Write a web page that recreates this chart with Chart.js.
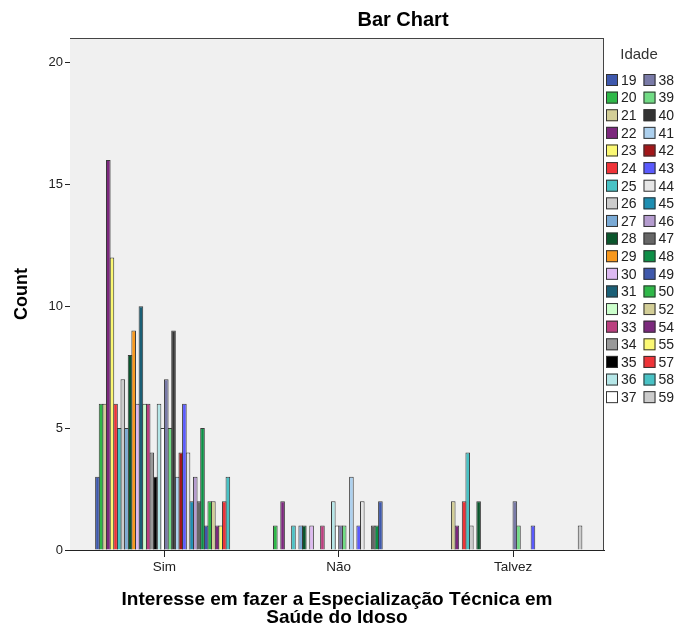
<!DOCTYPE html>
<html><head><meta charset="utf-8">
<script src="https://cdn.jsdelivr.net/npm/chart.js@4/dist/chart.umd.min.js"></script>
<style>html,body{margin:0;padding:0;background:#fff}#wrap{width:676px;height:628px;position:relative}</style>
</head><body><div id="wrap"><canvas id="c" width="676" height="628"></canvas></div>
<script>
const categories = ['Sim', 'Não', 'Talvez'];
const ages = ['19','20','21','22','23','24','25','26','27','28','29','30','31','32','33','34','35','36','37',
              '38','39','40','41','42','43','44','45','46','47','48','49','50','52','54','55','57','58','59'];
const sim    = [3,6,6,16,12,6,5,7,5,8,9,6,10,6,6,4,3,6,5, 7,5,9,3,4,6,4,2,3,2,5,1,2,2,1,1,2,3,0];
const nao    = [0,1,0,2,0,0,1,0,1,1,0,1,0,0,1,0,0,2,1, 1,1,0,3,0,1,2,0,0,1,1,2,0,0,0,0,0,0,0];
const talvez = [0,0,2,1,0,2,4,1,0,2,0,0,0,0,0,0,0,0,0, 2,1,0,0,0,1,0,0,0,0,0,0,0,0,0,0,0,0,1];
const yTicks = [0, 5, 10, 15, 20];
const chartTitle = 'Bar Chart';
const legendTitle = 'Idade';
const xTitle = ['Interesse em fazer a Especialização Técnica em', 'Saúde do Idoso'];
const yTitle = 'Count';

const palette = ['#3E58AC','#2EB848','#D3CE97','#7C287D','#FBF873','#EF3338','#48C2C5','#CCCCCC','#7AAAD5','#0A562C',
                 '#F8981D','#DDB9F1','#1A5F76','#CCFFCC','#BB3F7F','#999999','#000000','#B6E7E8','#FFFFFF','#797AA7',
                 '#70DC84','#333333','#ACD0EE','#A21619','#5A5AFF','#E6E6E6','#1C8EB2','#B59CCF','#666666','#0D8F46'];
const FONT = '"Liberation Sans", Arial, sans-serif';

const seriesByCat = [sim, nao, talvez];
const datasets = ages.map((a, i) => ({
  label: a,
  data: categories.map((c, k) => ({x: k, y: seriesByCat[k][i]})),
  backgroundColor: palette[i % palette.length],
  borderColor: '#3a3a3a',
  borderWidth: 1,
  categoryPercentage: 0.79,
  barPercentage: 1.275
}));

const decor = {
  id: 'decor',
  beforeDatasetsDraw(chart) {
    const {ctx, chartArea: a} = chart;
    ctx.save();
    ctx.fillStyle = '#F0F0F0';
    ctx.fillRect(a.left, a.top, a.right - a.left, a.bottom - a.top);
    ctx.restore();
  },
  afterDraw(chart) {
    const {ctx, chartArea: a} = chart;
    ctx.save();
    ctx.strokeStyle = '#444';
    ctx.lineWidth = 1;
    ctx.beginPath();
    ctx.moveTo(a.left, a.top + 0.5); ctx.lineTo(a.right, a.top + 0.5);
    ctx.moveTo(a.right - 0.5, a.top); ctx.lineTo(a.right - 0.5, a.bottom);
    ctx.stroke();
    // title
    ctx.fillStyle = '#000';
    ctx.font = 'bold 20px ' + FONT;
    ctx.textAlign = 'center';
    ctx.textBaseline = 'middle';
    ctx.fillText(chartTitle, 403, 20);
    // legend
    ctx.font = '15px ' + FONT;
    ctx.fillStyle = '#333';
    ctx.fillText(legendTitle, 639, 55);
    ctx.font = '14px ' + FONT;
    ctx.textAlign = 'left';
    chart.data.datasets.forEach((ds, i) => {
      const col = i < 19 ? 0 : 1;
      const row = i % 19;
      const x = 606 + col * 37.5;
      const y = 80 + row * 17.62;
      ctx.fillStyle = ds.backgroundColor;
      ctx.fillRect(x, y - 6, 12, 12);
      ctx.strokeStyle = '#333';
      ctx.strokeRect(x + 0.5, y - 5.5, 11, 11);
      ctx.fillStyle = '#222';
      ctx.fillText(ds.label, x + 15, y + 1);
    });
    ctx.restore();
  }
};

new Chart(document.getElementById('c'), {
  type: 'bar',
  data: { datasets },
  plugins: [decor],
  options: {
    responsive: false,
    animation: false,
    devicePixelRatio: 1,
    layout: { padding: { left: 0, right: 72, top: 38, bottom: 0 } },
    plugins: { legend: { display: false }, tooltip: { enabled: false }, title: { display: false } },
    scales: {
      x: {
        type: 'linear',
        offset: false,
        min: -0.542, max: 2.522,
        bounds: 'data',
        afterFit: s => { s.height = 78; },
        afterBuildTicks: s => { s.ticks = categories.map((c, k) => ({value: k})); },
        ticks: {
          stepSize: 1, includeBounds: false, autoSkip: false, maxRotation: 0,
          padding: 2, color: '#222', font: { family: FONT, size: 13.5 },
          callback: v => categories[v]
        },
        grid: { display: true, offset: false, drawOnChartArea: false, drawTicks: true, tickLength: 7, color: '#222' },
        border: { display: true, color: '#222' },
        title: { display: true, text: xTitle, color: '#000', font: { family: FONT, size: 19, weight: 'bold', lineHeight: 0.95 }, padding: { top: 0, bottom: 1 } }
      },
      y: {
        min: 0, max: 21,
        afterFit: s => { s.width = 70; },
        afterBuildTicks: s => { s.ticks = yTicks.map(v => ({value: v})); },
        ticks: { stepSize: 5, includeBounds: false, padding: 2, color: '#222', font: { family: FONT, size: 13 } },
        grid: { display: true, drawOnChartArea: false, drawTicks: true, tickLength: 5, color: '#222' },
        border: { display: true, color: '#222' },
        title: { display: true, text: yTitle, color: '#000', font: { family: FONT, size: 18, weight: 'bold', lineHeight: 1.1 }, padding: { top: 12, bottom: 0 } }
      }
    }
  }
});
</script></body></html>
